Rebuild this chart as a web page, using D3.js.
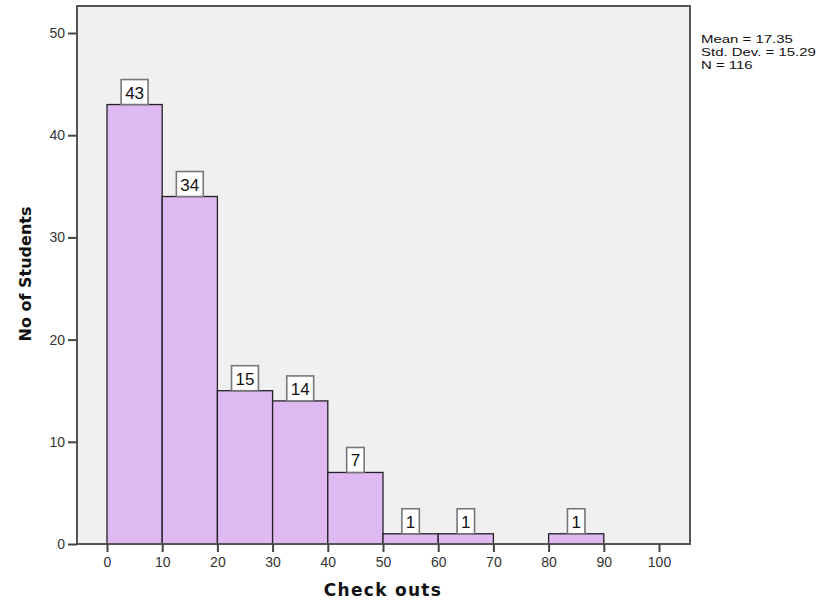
<!DOCTYPE html>
<html><head><meta charset="utf-8">
<script src="https://cdn.jsdelivr.net/npm/d3@7"></script>
<style>body{margin:0;background:#fff}</style>
</head><body>
<svg id="c" width="825" height="600"></svg>
<script>
const binStarts = [0, 10, 20, 30, 40, 50, 60, 70, 80, 90];
const counts = [43, 34, 15, 14, 7, 1, 1, 0, 1, 0];
const binWidth = 10;
const xTicks = [0, 10, 20, 30, 40, 50, 60, 70, 80, 90, 100];
const yTicks = [0, 10, 20, 30, 40, 50];
const statsLines = ["Mean = 17.35", "Std. Dev. = 15.29", "N = 116"];
const xTitle = "Check outs";
const yTitle = "No of Students";

const svg = d3.select("#c");
const frame = {left: 77, right: 690, top: 6, bottom: 544};
const x = d3.scaleLinear().domain([0, 100]).range([107, 659]);
const y = d3.scaleLinear().domain([0, 50]).range([544, 33]);

svg.append("rect").attr("x", frame.left).attr("y", frame.top)
  .attr("width", frame.right - frame.left).attr("height", frame.bottom - frame.top)
  .attr("fill", "#f0f0f0");

const data = binStarts.map((s, i) => ({s, c: counts[i]})).filter(d => d.c > 0);

svg.append("g").selectAll("rect").data(data).join("rect")
  .attr("x", d => x(d.s)).attr("width", d => x(d.s + binWidth) - x(d.s))
  .attr("y", d => y(d.c)).attr("height", d => y(0) - y(d.c))
  .attr("fill", "#dfb9f2").attr("stroke", "#222").attr("stroke-width", 1.3);

// value labels
const lg = svg.append("g");
data.forEach(d => {
  const cx = x(d.s + binWidth / 2);
  const t = lg.append("text").attr("x", cx).attr("y", y(d.c) - 6)
    .attr("text-anchor", "middle").attr("font-family", "Liberation Sans, Arial, sans-serif")
    .attr("font-size", 17).attr("fill", "#111").text(d.c);
  const bb = t.node().getBBox();
  const w = bb.width + 8;
  lg.insert("rect", "text").attr("x", cx - w / 2).attr("y", y(d.c) - 25)
    .attr("width", w).attr("height", 25)
    .attr("fill", "#fff").attr("stroke", "#777").attr("stroke-width", 1.6);
});

// frame
svg.append("rect").attr("x", frame.left).attr("y", frame.top)
  .attr("width", frame.right - frame.left).attr("height", frame.bottom - frame.top)
  .attr("fill", "none").attr("stroke", "#555").attr("stroke-width", 2);

// axes
const xAxis = svg.append("g").attr("transform", `translate(0,${frame.bottom})`)
  .call(d3.axisBottom(x).tickValues(xTicks).tickSize(8).tickPadding(5));
const yAxis = svg.append("g").attr("transform", `translate(${frame.left},0)`)
  .call(d3.axisLeft(y).tickValues(yTicks).tickSize(9).tickPadding(3));
[xAxis, yAxis].forEach(a => {
  a.select(".domain").remove();
  a.selectAll(".tick line").attr("stroke", "#444").attr("stroke-width", 2);
  a.selectAll(".tick text").attr("font-family", "Liberation Sans, Arial, sans-serif")
    .attr("font-size", 14).attr("fill", "#333");
});

svg.append("text").attr("x", 383).attr("y", 596).attr("text-anchor", "middle")
  .attr("font-family", "DejaVu Sans, sans-serif").attr("font-weight", "bold")
  .attr("font-size", 17).attr("letter-spacing", 1.3).attr("fill", "#111").text(xTitle);

svg.append("text").attr("transform", "translate(31,274) rotate(-90)")
  .attr("text-anchor", "middle")
  .attr("font-family", "DejaVu Sans, sans-serif").attr("font-weight", "bold")
  .attr("font-size", 16).attr("fill", "#111").text(yTitle);

const st = svg.append("g").attr("transform", "translate(701,43) scale(1.36,1)");
st.selectAll("text").data(statsLines).join("text")
  .attr("x", 0).attr("y", (d, i) => i * 12.8)
  .attr("font-family", "Liberation Sans, Arial, sans-serif").attr("font-size", 11)
  .attr("fill", "#111").text(d => d);
</script>
</body></html>
